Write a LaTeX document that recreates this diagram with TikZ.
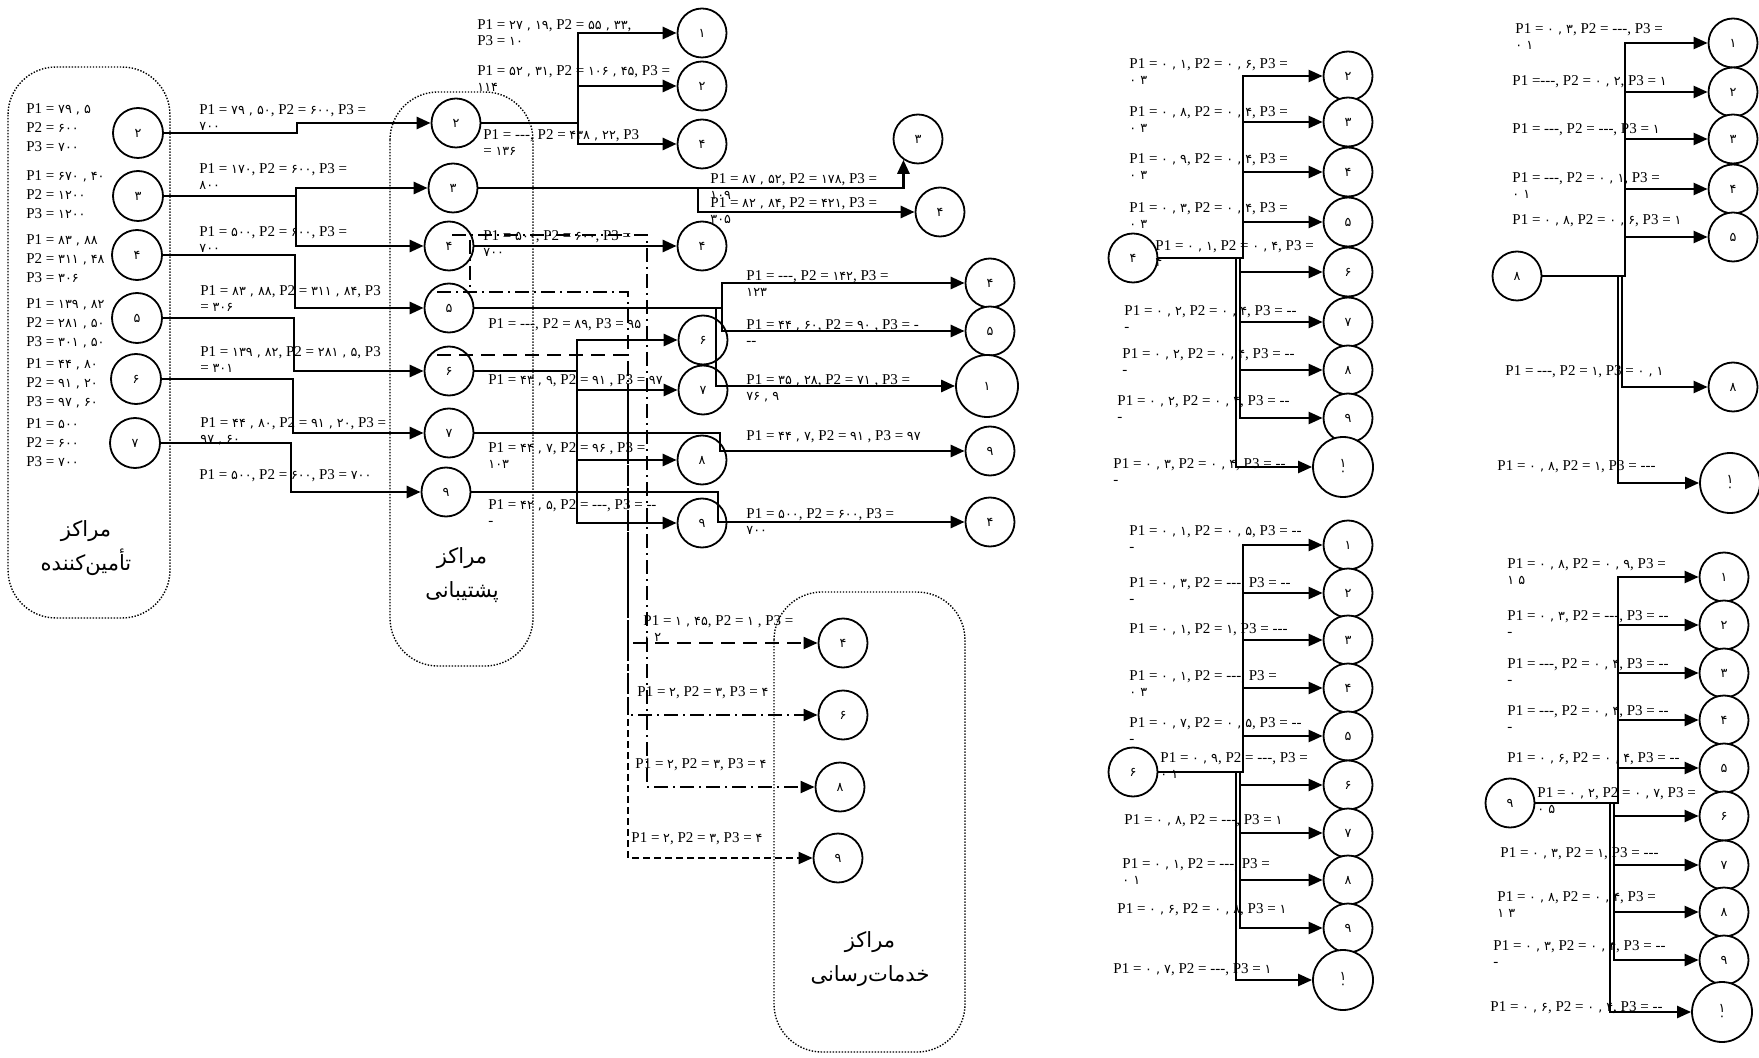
\documentclass[tikz,border=0pt]{standalone}
\usepackage{fontspec}
\setmainfont{Liberation Serif}
\newfontfamily\fa[Script=Arabic,Scale=0.85]{DejaVu Sans}
\newfontfamily\fatitle[Script=Arabic]{DejaVu Sans}
\TeXXeTstate=1
\usetikzlibrary{arrows.meta}
\newcommand{\fd}[1]{{\fa#1}}
\newcommand{\nd}{-{}-{}-}
\newcommand{\dd}{-{}-}
\newcommand{\ten}{۱\\[-3pt]۰}
\tikzset{
  ctr/.style={circle, draw, line width=0.9pt, fill=white, minimum size=24.5pt,
              inner sep=0pt, align=center, font=\fontsize{7.5}{7}\selectfont\fa},
  bigctr/.style={ctr, minimum size=30pt},
  lbl/.style={anchor=north west, yshift=2.5pt, inner sep=0pt, align=left,
              font=\fontsize{7.5}{8}\selectfont},
  stack/.style={lbl, font=\fontsize{7.5}{9.5}\selectfont},
  grp/.style={draw, line width=0.7pt, dash pattern=on 0.7pt off 0.8pt, rounded corners=24pt},
  grptitle/.style={align=center, font=\fontsize{10.5}{17}\selectfont\fatitle},
  arr/.style={-{Triangle[length=7pt,width=6pt]}, line width=1.2pt},
  flow/.style={arr, line width=1.4pt},
  link/.style={line width=1pt},
  longdash/.style={arr, line width=1pt, dash pattern=on 7pt off 4pt},
  shortdash/.style={arr, line width=1pt, dash pattern=on 3.5pt off 2pt},
  dashdot/.style={arr, line width=1pt, dash pattern=on 7pt off 2.5pt on 1pt off 2.5pt},
  dashdotlink/.style={link, dash pattern=on 7pt off 2.5pt on 1pt off 2.5pt}}

\begin{document}
\begin{tikzpicture}[x=0.5pt, y=-0.5pt]
  \useasboundingbox (0,0) rectangle (1759,1058);

  % groups
  \draw[grp] (8,67) rectangle (170,618);
  \draw[grp] (390,92) rectangle (533,666);
  \draw[grp] (774,592) rectangle (965,1052);
  \node[grptitle] (tsup) at (86,548) {\beginR مراکز\endR\\\beginR تأمین‌کننده\endR};
  \node[grptitle] (tbak) at (462,575) {\beginR مراکز\endR\\\beginR پشتیبانی\endR};
  \node[grptitle] (tsrv) at (870,959) {\beginR مراکز\endR\\\beginR خدمات‌رسانی\endR};

  % supplier capacities
  \node[stack] (b2) at (26,108) {P1 = \fd{۷۹ , ۵}\\P2 = \fd{۶۰۰}\\P3 = \fd{۷۰۰}};
  \node[stack] (b3) at (26,175) {P1 = \fd{۶۷۰ , ۴۰}\\P2 = \fd{۱۲۰۰}\\P3 = \fd{۱۲۰۰}};
  \node[stack] (b4) at (26,239) {P1 = \fd{۸۳ , ۸۸}\\P2 = \fd{۳۱۱ , ۴۸}\\P3 = \fd{۳۰۶}};
  \node[stack] (b5) at (26,303) {P1 = \fd{۱۳۹ , ۸۲}\\P2 = \fd{۲۸۱ , ۵۰}\\P3 = \fd{۳۰۱ , ۵۰}};
  \node[stack] (b6) at (26,363) {P1 = \fd{۴۴ , ۸۰}\\P2 = \fd{۹۱ , ۲۰}\\P3 = \fd{۹۷ , ۶۰}};
  \node[stack] (b7) at (26,423) {P1 = \fd{۵۰۰}\\P2 = \fd{۶۰۰}\\P3 = \fd{۷۰۰}};

  % suppliers
  \node[ctr, minimum size=25pt] (su2) at (138,133) {۲};
  \node[ctr, minimum size=25pt] (su3) at (138,196) {۳};
  \node[ctr, minimum size=25pt] (su4) at (137,255) {۴};
  \node[ctr, minimum size=25pt] (su5) at (137,318) {۵};
  \node[ctr, minimum size=25pt] (su6) at (136,379) {۶};
  \node[ctr, minimum size=25pt] (su7) at (135,443) {۷};

  % support centres
  \node[ctr] (sp2) at (456,123) {۲};
  \node[ctr] (sp3) at (453,188) {۳};
  \node[ctr] (sp4) at (449,246) {۴};
  \node[ctr] (sp5) at (449,308) {۵};
  \node[ctr] (sp6) at (449,371) {۶};
  \node[ctr] (sp7) at (449,433) {۷};
  \node[ctr] (sp9) at (446,492) {۹};

  % demand points
  \node[ctr] (dA1) at (702,33) {۱};
  \node[ctr] (dA2) at (702,86) {۲};
  \node[ctr] (dA4) at (702,144) {۴};
  \node[ctr] (dB3) at (918,139) {۳};
  \node[ctr] (dB4) at (940,212) {۴};
  \node[ctr] (dC4) at (702,246) {۴};
  \node[ctr] (dD4) at (990,283) {۴};
  \node[ctr] (dD5) at (990,331) {۵};
  \node[ctr, minimum size=31pt] (dD1) at (987,386) {۱};
  \node[ctr] (dE6) at (703,340) {۶};
  \node[ctr] (dE7) at (703,390) {۷};
  \node[ctr] (dE8) at (702,460) {۸};
  \node[ctr] (dE9) at (702,523) {۹};
  \node[ctr] (dF9) at (990,451) {۹};
  \node[ctr] (dF4) at (990,522) {۴};

  % service centres
  \node[ctr] (sv4) at (843,643) {۴};
  \node[ctr] (sv6) at (843,715) {۶};
  \node[ctr] (sv8) at (840,787) {۸};
  \node[ctr] (sv9) at (838,858) {۹};

  % supplier -> support
  \draw[flow] (su2.east) -| (297,123) -- (sp2.west);
  \draw[flow] (su3.east) -| (296,188) -- (sp3.west);
  \draw[flow] (su3.east) -| (296,246) -- (sp4.west);
  \draw[flow] (su4.east) -| (295,308) -- (sp5.west);
  \draw[flow] (su5.east) -| (294,371) -- (sp6.west);
  \draw[flow] (su6.east) -| (293,433) -- (sp7.west);
  \draw[flow] (su7.east) -| (291,492) -- (sp9.west);
  \node[lbl] (ls1) at (199,109) {P1 = \fd{۷۹ , ۵۰}, P2 = \fd{۶۰۰}, P3 =\\\fd{۷۰۰}};
  \node[lbl] (ls2) at (199,168) {P1 = \fd{۱۷۰}, P2 = \fd{۶۰۰}, P3 =\\\fd{۸۰۰}};
  \node[lbl] (ls3) at (199,231) {P1 = \fd{۵۰۰}, P2 = \fd{۶۰۰}, P3 =\\\fd{۷۰۰}};
  \node[lbl] (ls4) at (200,290) {P1 = \fd{۸۳ , ۸۸}, P2 = \fd{۳۱۱ , ۸۴}, P3\\= \fd{۳۰۶}};
  \node[lbl] (ls5) at (200,351) {P1 = \fd{۱۳۹ , ۸۲}, P2 = \fd{۲۸۱ , ۵}, P3\\= \fd{۳۰۱}};
  \node[lbl] (ls6) at (200,422) {P1 = \fd{۴۴ , ۸۰}, P2 = \fd{۹۱ , ۲۰}, P3 =\\\fd{۹۷ , ۶۰}};
  \node[lbl] (ls7) at (199,474) {P1 = \fd{۵۰۰}, P2 = \fd{۶۰۰}, P3 = \fd{۷۰۰}};

  % support -> demand
  \draw[flow] (sp2.east) -| (578,33) -- (dA1.west);
  \draw[flow] (sp2.east) -| (578,86) -- (dA2.west);
  \draw[flow] (sp2.east) -| (578,144) -- (dA4.west);
  \draw[flow] (sp3.east) -| (dB3.235);
  \draw[flow] (sp3.east) -| (698,212) -- (dB4.west);
  \draw[flow] (sp4.east) -- (dC4.west);
  \draw[flow] (sp5.east) -| (722,283) -- (dD4.west);
  \draw[flow] (sp5.east) -| (722,331) -- (dD5.west);
  \draw[flow] (sp5.east) -| (716,386) -- (dD1.west);
  \draw[flow] (sp6.east) -| (577,340) -- (dE6.west);
  \draw[flow] (sp6.east) -| (577,390) -- (dE7.west);
  \draw[flow] (sp6.east) -| (577,460) -- (dE8.west);
  \draw[flow] (sp6.east) -| (577,523) -- (dE9.west);
  \draw[flow] (sp7.east) -| (720,451) -- (dF9.west);
  \draw[flow] (sp9.east) -| (718,522) -- (dF4.west);
  \node[lbl] (lm1) at (477,24) {P1 = \fd{۲۷ , ۱۹}, P2 = \fd{۵۵ , ۳۳},\\P3 = \fd{۱۰}};
  \node[lbl] (lm2) at (477,70) {P1 = \fd{۵۲ , ۳۱}, P2 = \fd{۱۰۶ , ۴۵}, P3 =\\\fd{۱۱۴}};
  \node[lbl] (lm3) at (483,134) {P1 = \nd, P2 = \fd{۴۳۸ , ۲۲}, P3\\= \fd{۱۳۶}};
  \node[lbl] (lm4) at (710,178) {P1 = \fd{۸۷ , ۵۲}, P2 = \fd{۱۷۸}, P3 =\\\fd{۱۰۹}};
  \node[lbl] (lm5) at (710,202) {P1 = \fd{۸۲ , ۸۴}, P2 = \fd{۴۲۱}, P3 =\\\fd{۳۰۵}};
  \node[lbl] (lm6) at (483,235) {P1 = \fd{۵۰۰}, P2 = \fd{۶۰۰}, P3 =\\\fd{۷۰۰}};
  \node[lbl] (lm7) at (746,275) {P1 = \nd, P2 = \fd{۱۴۲}, P3 =\\\fd{۱۲۳}};
  \node[lbl] (lm8) at (746,324) {P1 = \fd{۴۴ , ۶۰}, P2 = \fd{۹۰} , P3 = -\\\dd};
  \node[lbl] (lm9) at (746,379) {P1 = \fd{۳۵ , ۲۸}, P2 = \fd{۷۱} , P3 =\\\fd{۷۶ , ۹}};
  \node[lbl] (lm10) at (488,323) {P1 = \nd, P2 = \fd{۸۹}, P3 = \fd{۹۵}};
  \node[lbl] (lm11) at (488,379) {P1 = \fd{۴۳ , ۹}, P2 = \fd{۹۱} , P3 = \fd{۹۷}};
  \node[lbl] (lm12) at (488,447) {P1 = \fd{۴۴ , ۷}, P2 = \fd{۹۶} , P3 =\\\fd{۱۰۳}};
  \node[lbl] (lm13) at (488,504) {P1 = \fd{۴۲ , ۵}, P2 = \nd, P3 = \dd\\-};
  \node[lbl] (lm14) at (746,435) {P1 = \fd{۴۴ , ۷}, P2 = \fd{۹۱} , P3 = \fd{۹۷}};
  \node[lbl] (lm15) at (746,513) {P1 = \fd{۵۰۰}, P2 = \fd{۶۰۰}, P3 =\\\fd{۷۰۰}};

  % support -> service
  \coordinate (ka) at (437,292);
  \coordinate (kb) at (470,240);
  \coordinate (kc) at (470,292);
  \coordinate (kd) at (437,355);
  \coordinate (ke) at (452,235);
  \coordinate (kf) at (628,400);
  \draw[dashdotlink] (kb) -- (kc);
  \draw[dashdot] (ka) -- (628,292) -- (628,715) -- (sv6.west);
  \draw[longdash] (kd) -- (628,355) -- (628,643) -- (sv4.west);
  \draw[shortdash] (kf) -- (628,858) -- (sv9.west);
  \draw[dashdot] (ke) -- (647,235) -- (647,787) -- (sv8.west);
  \node[lbl] (lv1) at (643,620) {P1 = \fd{۱ , ۴۵}, P2 = \fd{۱} , P3 =\\\fd{۰ ۲}};
  \node[lbl] (lv2) at (637,691) {P1 = \fd{۲}, P2 = \fd{۳}, P3 = \fd{۴}};
  \node[lbl] (lv3) at (635,763) {P1 = \fd{۲}, P2 = \fd{۳}, P3 = \fd{۴}};
  \node[lbl] (lv4) at (631,837) {P1 = \fd{۲}, P2 = \fd{۳}, P3 = \fd{۴}};

  % allocation from support 4
  \node[ctr] (pa) at (1133,258) {۴};
  \foreach \n/\dg/\yy/\xb/\lx/\ly/\la/\lb in {
    1/۲/76/1243/1129/63/{P1 = \fd{۰ , ۱}, P2 = \fd{۰ , ۶}, P3 =}/{\fd{۰ ۳}},
    2/۳/122/1243/1129/111/{P1 = \fd{۰ , ۸}, P2 = \fd{۰ , ۴}, P3 =}/{\fd{۰ ۳}},
    3/۴/172/1243/1129/158/{P1 = \fd{۰ , ۹}, P2 = \fd{۰ , ۴}, P3 =}/{\fd{۰ ۳}},
    4/۵/222/1243/1129/207/{P1 = \fd{۰ , ۳}, P2 = \fd{۰ , ۴}, P3 =}/{\fd{۰ ۳}},
    5/۶/272/1240/1155/245/{P1 = \fd{۰ , ۱}, P2 = \fd{۰ , ۴}, P3 =}/{\fd{۴}},
    6/۷/322/1240/1124/310/{P1 = \fd{۰ , ۲}, P2 = \fd{۰ , ۴}, P3 = \dd}/{-},
    7/۸/370/1240/1122/353/{P1 = \fd{۰ , ۲}, P2 = \fd{۰ , ۴}, P3 = \dd}/{-},
    8/۹/418/1240/1117/400/{P1 = \fd{۰ , ۲}, P2 = \fd{۰ , ۴}, P3 = \dd}/{-}}{
    \node[ctr] (pa\n) at (1348,\yy) {\dg};
    \draw[arr] (pa.east) -| (\xb,\yy) -- (pa\n.west);
    \node[lbl] (lpa\n) at (\lx,\ly) {\la\\\lb};
  }
  \node[bigctr] (pa9) at (1343,467) {\ten};
  \draw[arr] (pa.east) -| (1236,467) -- (pa9.west);
  \node[lbl] (lpa9) at (1113,463) {P1 = \fd{۰ , ۳}, P2 = \fd{۰ , ۴}, P3 = \dd\\-};

  % allocation from support 6
  \node[ctr] (pb) at (1133,772) {۶};
  \foreach \n/\dg/\yy/\xb/\lx/\ly/\la/\lb in {
    1/۱/545/1243/1129/530/{P1 = \fd{۰ , ۱}, P2 = \fd{۰ , ۵}, P3 = \dd}/{-},
    2/۲/593/1243/1129/582/{P1 = \fd{۰ , ۳}, P2 = \nd, P3 = \dd}/{-},
    3/۳/640/1243/1129/628/{P1 = \fd{۰ , ۱}, P2 = \fd{۱}, P3 = \nd}/{},
    4/۴/688/1243/1129/675/{P1 = \fd{۰ , ۱}, P2 = \nd, P3 =}/{\fd{۰ ۳}},
    5/۵/736/1243/1129/722/{P1 = \fd{۰ , ۷}, P2 = \fd{۰ , ۵}, P3 = \dd}/{-},
    6/۶/785/1240/1160/757/{P1 = \fd{۰ , ۹}, P2 = \nd, P3 =}/{\fd{۰ ۱}},
    7/۷/833/1240/1124/819/{P1 = \fd{۰ , ۸}, P2 = \nd, P3 = \fd{۱}}/{},
    8/۸/880/1240/1122/863/{P1 = \fd{۰ , ۱}, P2 = \nd, P3 =}/{\fd{۰ ۱}},
    9/۹/928/1240/1117/908/{P1 = \fd{۰ , ۶}, P2 = \fd{۰ , ۸}, P3 = \fd{۱}}/{}}{
    \node[ctr] (pb\n) at (1348,\yy) {\dg};
    \draw[arr] (pb.east) -| (\xb,\yy) -- (pb\n.west);
    \node[lbl] (lpb\n) at (\lx,\ly) {\la\\\lb};
  }
  \node[bigctr] (pb10) at (1343,980) {\ten};
  \draw[arr] (pb.east) -| (1236,980) -- (pb10.west);
  \node[lbl] (lpb10) at (1113,968) {P1 = \fd{۰ , ۷}, P2 = \nd, P3 = \fd{۱}};

  % allocation from support 8
  \node[ctr] (pc) at (1517,276) {۸};
  \foreach \n/\dg/\yy/\xb/\lx/\ly/\la/\lb in {
    1/۱/43/1625/1515/28/{P1 = \fd{۰ , ۳}, P2 = \nd, P3 =}/{\fd{۰ ۱}},
    2/۲/92/1625/1512/80/{P1 =\nd, P2 = \fd{۰ , ۲}, P3 = \fd{۱}}/{},
    3/۳/139/1625/1512/128/{P1 = \nd, P2 = \nd, P3 = \fd{۱}}/{},
    4/۴/189/1625/1512/177/{P1 = \nd, P2 = \fd{۰ , ۱}, P3 =}/{\fd{۰ ۱}},
    5/۵/237/1625/1512/219/{P1 = \fd{۰ , ۸}, P2 = \fd{۰ , ۶}, P3 = \fd{۱}}/{},
    8/۸/387/1622/1505/370/{P1 = \nd, P2 = \fd{۱}, P3 = \fd{۰ , ۱}}/{}}{
    \node[ctr] (pc\n) at (1733,\yy) {\dg};
    \draw[arr] (pc.east) -| (\xb,\yy) -- (pc\n.west);
    \node[lbl] (lpc\n) at (\lx,\ly) {\la\\\lb};
  }
  \node[bigctr] (pc10) at (1730,483) {\ten};
  \draw[arr] (pc.east) -| (1618,483) -- (pc10.west);
  \node[lbl] (lpc10) at (1497,465) {P1 = \fd{۰ , ۸}, P2 = \fd{۱}, P3 = \nd};

  % allocation from support 9
  \node[ctr] (pd) at (1510,803) {۹};
  \foreach \n/\dg/\yy/\xb/\lx/\ly/\la/\lb in {
    1/۱/577/1618/1507/563/{P1 = \fd{۰ , ۸}, P2 = \fd{۰ , ۹}, P3 =}/{\fd{۱ ۵}},
    2/۲/625/1618/1507/615/{P1 = \fd{۰ , ۳}, P2 = \nd, P3 = \dd}/{-},
    3/۳/673/1618/1507/663/{P1 = \nd, P2 = \fd{۰ , ۴}, P3 = \dd}/{-},
    4/۴/720/1618/1507/710/{P1 = \nd, P2 = \fd{۰ , ۴}, P3 = \dd}/{-},
    5/۵/768/1618/1507/757/{P1 = \fd{۰ , ۶}, P2 = \fd{۰ , ۴}, P3 = \dd}/{},
    6/۶/816/1614/1537/792/{P1 = \fd{۰ , ۲}, P2 = \fd{۰ , ۷}, P3 =}/{\fd{۰ ۵}},
    7/۷/865/1614/1500/852/{P1 = \fd{۰ , ۳}, P2 = \fd{۱}, P3 = \nd}/{},
    8/۸/912/1614/1497/896/{P1 = \fd{۰ , ۸}, P2 = \fd{۰ , ۴}, P3 =}/{\fd{۱ ۳}},
    9/۹/960/1614/1493/945/{P1 = \fd{۰ , ۳}, P2 = \fd{۰ , ۴}, P3 = \dd}/{-}}{
    \node[ctr] (pd\n) at (1724,\yy) {\dg};
    \draw[arr] (pd.east) -| (\xb,\yy) -- (pd\n.west);
    \node[lbl] (lpd\n) at (\lx,\ly) {\la\\\lb};
  }
  \node[bigctr] (pd10) at (1722,1012) {\ten};
  \draw[arr] (pd.east) -| (1610,1012) -- (pd10.west);
  \node[lbl] (lpd10) at (1490,1006) {P1 = \fd{۰ , ۶}, P2 = \fd{۰ , ۴}, P3 = \dd};
\end{tikzpicture}
\end{document}
